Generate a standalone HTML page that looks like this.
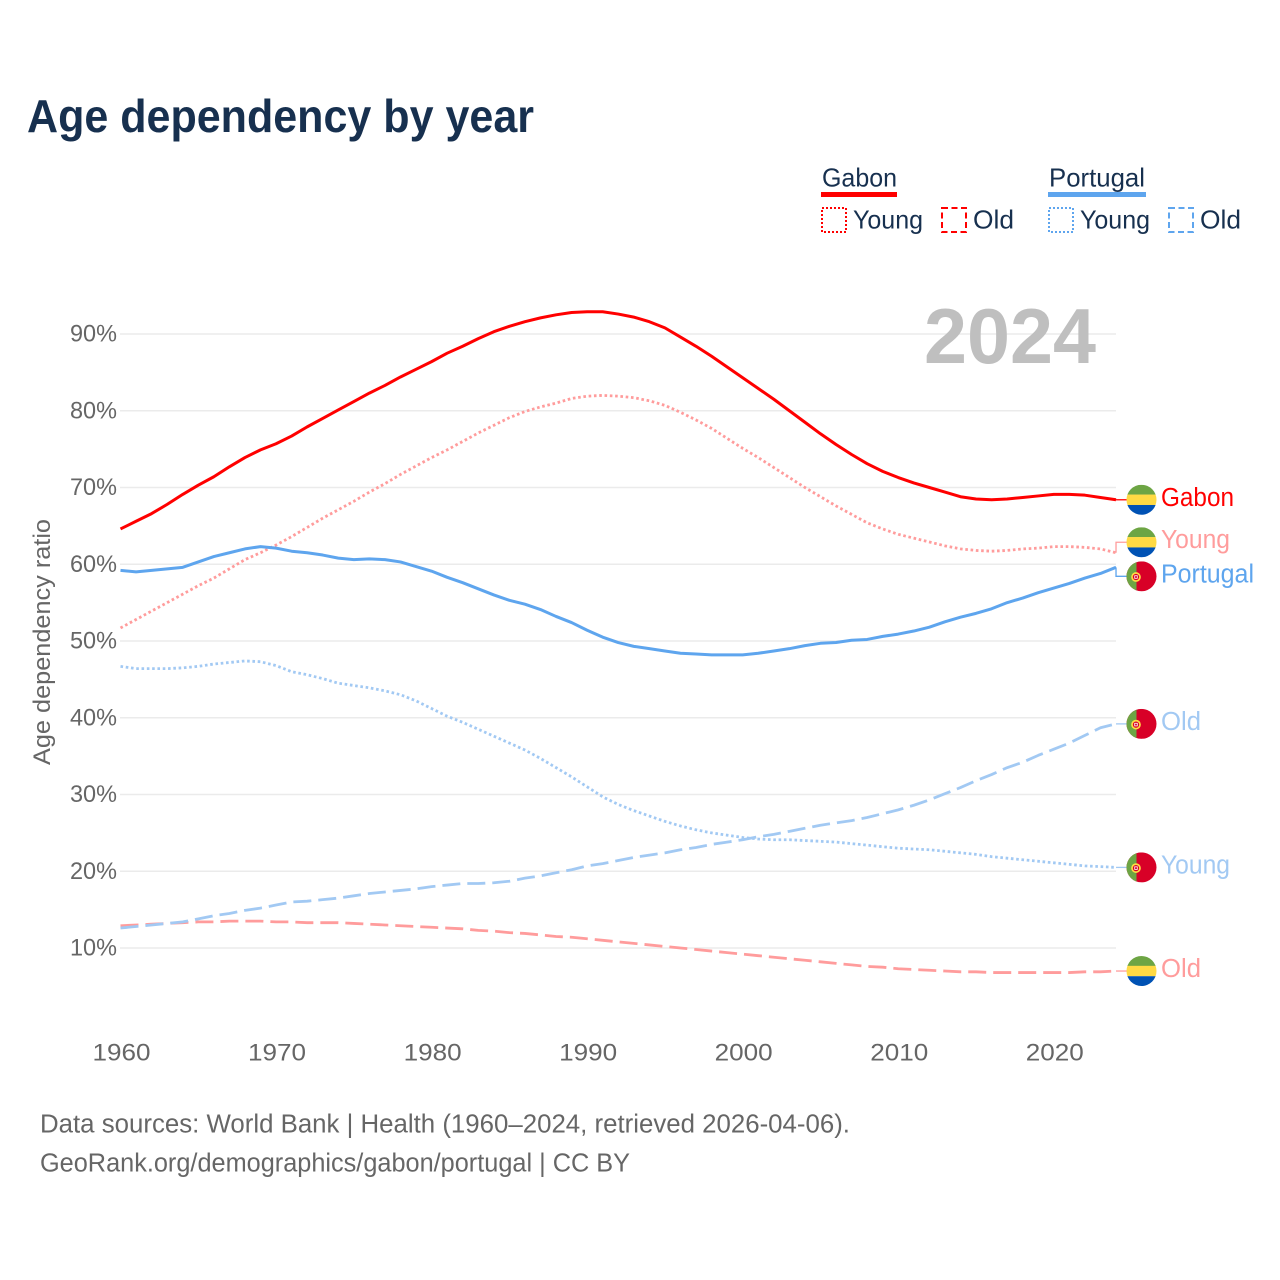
<!DOCTYPE html>
<html lang="en">
<head>
<meta charset="utf-8">
<title>Age dependency by year</title>
<style>
html,body{margin:0;padding:0;background:#fff;width:1280px;height:1280px;overflow:hidden}
svg{display:block;font-family:"Liberation Sans",sans-serif}
</style>
</head>
<body>
<svg id="chart" width="1280" height="1280" viewBox="0 0 1280 1280" xmlns="http://www.w3.org/2000/svg">
  <text x="27" y="132" font-size="46" font-weight="700" fill="#17304f" textLength="507" lengthAdjust="spacingAndGlyphs">Age dependency by year</text>

  <g>
    <text x="822" y="186.5" font-size="26" fill="#17304f" textLength="75" lengthAdjust="spacingAndGlyphs">Gabon</text>
    <rect x="821" y="192" width="76" height="5" fill="#ff0000"/>
    <rect x="822" y="208" width="24" height="24" fill="none" stroke="#ff0000" stroke-width="2" stroke-dasharray="2 2"/>
    <text x="853" y="228.5" font-size="26" fill="#17304f" textLength="70" lengthAdjust="spacingAndGlyphs">Young</text>
    <rect x="942" y="208" width="24" height="24" fill="none" stroke="#ff0000" stroke-width="2" stroke-dasharray="6 3.5"/>
    <text x="973" y="228.5" font-size="26" fill="#17304f" textLength="41" lengthAdjust="spacingAndGlyphs">Old</text>
    <text x="1049" y="186.5" font-size="26" fill="#17304f" textLength="96" lengthAdjust="spacingAndGlyphs">Portugal</text>
    <rect x="1048" y="192" width="98" height="5" fill="#5ea5ee"/>
    <rect x="1049" y="208" width="24" height="24" fill="none" stroke="#5ea5ee" stroke-width="2" stroke-dasharray="2 2"/>
    <text x="1080" y="228.5" font-size="26" fill="#17304f" textLength="70" lengthAdjust="spacingAndGlyphs">Young</text>
    <rect x="1169" y="208" width="24" height="24" fill="none" stroke="#5ea5ee" stroke-width="2" stroke-dasharray="6 3.5"/>
    <text x="1200" y="228.5" font-size="26" fill="#17304f" textLength="41" lengthAdjust="spacingAndGlyphs">Old</text>
  </g>

  <g id="grid"></g>
  <g id="yticks"></g>
  <g id="xticks"></g>

  <text transform="translate(50,765) rotate(-90)" font-size="24.5" fill="#666" textLength="246" lengthAdjust="spacingAndGlyphs">Age dependency ratio</text>
  <text x="924" y="363" font-size="78" font-weight="700" fill="#bfbfbf" textLength="172" lengthAdjust="spacingAndGlyphs">2024</text>

  <g id="series"></g>
  <g id="labels"></g>

  <text x="40" y="1132.5" font-size="25.5" fill="#666" textLength="810" lengthAdjust="spacingAndGlyphs">Data sources: World Bank | Health (1960–2024, retrieved 2026-04-06).</text>
  <text x="40" y="1171.5" font-size="25.5" fill="#666" textLength="590" lengthAdjust="spacingAndGlyphs">GeoRank.org/demographics/gabon/portugal | CC BY</text>
</svg>

<script>
const startYear = 1960;
const xTickYears = [1960, 1970, 1980, 1990, 2000, 2010, 2020];
const yTickValues = [10, 20, 30, 40, 50, 60, 70, 80, 90];

const gabonTotal = [
  64.6, 65.6, 66.6, 67.8, 69.1, 70.3, 71.4, 72.7, 73.9, 74.9,
  75.7, 76.7, 77.9, 79.0, 80.1, 81.2, 82.3, 83.3, 84.4, 85.4,
  86.4, 87.5, 88.4, 89.4, 90.3, 91.0, 91.6, 92.1, 92.5, 92.8,
  92.9, 92.9, 92.6, 92.2, 91.6, 90.8, 89.6, 88.4, 87.1, 85.7,
  84.3, 82.9, 81.5, 80.0, 78.5, 77.0, 75.6, 74.3, 73.1, 72.1,
  71.3, 70.6, 70.0, 69.4, 68.8, 68.5, 68.4, 68.5, 68.7, 68.9,
  69.1, 69.1, 69.0, 68.7, 68.4
];
const gabonYoung = [
  51.7, 52.8, 53.9, 55.0, 56.1, 57.2, 58.2, 59.4, 60.6, 61.5,
  62.5, 63.6, 64.8, 66.0, 67.1, 68.2, 69.4, 70.5, 71.7, 72.8,
  73.9, 74.9, 76.0, 77.1, 78.1, 79.1, 79.9, 80.5, 81.0, 81.6,
  81.9, 82.0, 81.9, 81.7, 81.3, 80.7, 79.8, 78.8, 77.7, 76.4,
  75.1, 73.9, 72.6, 71.3, 70.0, 68.8, 67.6, 66.5, 65.4, 64.6,
  63.9, 63.4, 62.9, 62.4, 62.0, 61.8, 61.7, 61.8, 62.0, 62.1,
  62.3, 62.3, 62.2, 62.0, 61.5
];
const gabonOld = [
  12.9, 13.0, 13.1, 13.2, 13.3, 13.4, 13.4, 13.5, 13.5, 13.5,
  13.4, 13.4, 13.3, 13.3, 13.3, 13.2, 13.1, 13.0, 12.9, 12.8,
  12.7, 12.6, 12.5, 12.3, 12.2, 12.0, 11.9, 11.7, 11.5, 11.4,
  11.2, 11.0, 10.8, 10.6, 10.4, 10.2, 10.0, 9.8, 9.6, 9.4,
  9.2, 9.0, 8.8, 8.6, 8.4, 8.2, 8.0, 7.8, 7.6, 7.5,
  7.3, 7.2, 7.1, 7.0, 6.9, 6.9, 6.8, 6.8, 6.8, 6.8,
  6.8, 6.8, 6.9, 6.9, 7.0
];
const portugalTotal = [
  59.2, 59.0, 59.2, 59.4, 59.6, 60.3, 61.0, 61.5, 62.0, 62.3,
  62.1, 61.7, 61.5, 61.2, 60.8, 60.6, 60.7, 60.6, 60.3, 59.7,
  59.1, 58.3, 57.6, 56.8, 56.0, 55.3, 54.8, 54.1, 53.2, 52.4,
  51.4, 50.5, 49.8, 49.3, 49.0, 48.7, 48.4, 48.3, 48.2, 48.2,
  48.2, 48.4, 48.7, 49.0, 49.4, 49.7, 49.8, 50.1, 50.2, 50.6,
  50.9, 51.3, 51.8, 52.5, 53.1, 53.6, 54.2, 55.0, 55.6, 56.3,
  56.9, 57.5, 58.2, 58.8, 59.6
];
const portugalYoung = [
  46.7, 46.4, 46.4, 46.4, 46.5, 46.7, 47.0, 47.2, 47.4, 47.3,
  46.8, 46.0, 45.6, 45.1, 44.5, 44.2, 43.9, 43.5, 43.0, 42.2,
  41.2, 40.2, 39.4, 38.5, 37.6, 36.7, 35.8, 34.7, 33.5, 32.3,
  31.0, 29.7, 28.7, 27.9, 27.2, 26.5, 25.9, 25.4, 25.0, 24.7,
  24.4, 24.2, 24.1, 24.1, 24.0, 23.9, 23.8, 23.6, 23.4, 23.2,
  23.0, 22.9, 22.8, 22.6, 22.4, 22.2, 21.9, 21.7, 21.5, 21.3,
  21.1, 20.9, 20.7, 20.6, 20.5
];
const portugalOld = [
  12.6, 12.8, 13.0, 13.2, 13.4, 13.8, 14.2, 14.5, 14.9, 15.2,
  15.6, 16.0, 16.1, 16.3, 16.5, 16.8, 17.1, 17.3, 17.5, 17.7,
  18.0, 18.2, 18.4, 18.4, 18.5, 18.7, 19.1, 19.4, 19.8, 20.2,
  20.7, 21.0, 21.4, 21.8, 22.1, 22.4, 22.8, 23.1, 23.5, 23.8,
  24.1, 24.5, 24.8, 25.2, 25.6, 26.0, 26.3, 26.6, 27.0, 27.5,
  28.0, 28.6, 29.3, 30.1, 30.9, 31.8, 32.6, 33.5, 34.2, 35.1,
  35.9, 36.7, 37.7, 38.7, 39.2
];

const NS = 'http://www.w3.org/2000/svg';
const xScale = year => 120.5 + (year - 1960) * 15.555;
const yScale = value => 948 - (value - 10) * 7.675;

function make(tag, attrs, parent, text) {
  const el = document.createElementNS(NS, tag);
  for (const k in attrs) el.setAttribute(k, attrs[k]);
  if (text !== undefined) el.textContent = text;
  parent.appendChild(el);
  return el;
}

const grid = document.getElementById('grid');
const yticks = document.getElementById('yticks');
const xticks = document.getElementById('xticks');
const seriesG = document.getElementById('series');
const labelsG = document.getElementById('labels');

yTickValues.forEach(v => {
  const line = make('line', {x1: 120, x2: 1116, y1: yScale(v), y2: yScale(v), stroke: '#ebebeb', 'stroke-width': 1.5}, grid);
  
  
  const t = make('text', {x: 117, y: yScale(v) + 7.5, 'font-size': 24, fill: '#666', 'text-anchor': 'end', textLength: 47, lengthAdjust: 'spacingAndGlyphs'}, yticks, v + '%');
  
  
});

xTickYears.forEach(y => {
  const t = make('text', {x: xScale(y) + 1, y: 1060.5, 'font-size': 24, fill: '#666', 'text-anchor': 'middle', textLength: 58, lengthAdjust: 'spacingAndGlyphs'}, xticks, String(y));
  
  
});

const RED = '#ff0000', LRED = '#ff9c9c', BLUE = '#5ea5ee', LBLUE = '#a2c9f3';
const DOT = '2.6 2.7', DASH = '18 7';

/* draw order and styling; labelDy is the dodge of the end label from its line end */
const seriesList = [
  {key: 'gabon-old', values: gabonOld, color: LRED, dash: DASH, label: 'Old', flag: 'ga', labelDy: 0, width: 2.8},
  {key: 'portugal-old', values: portugalOld, color: LBLUE, dash: DASH, label: 'Old', flag: 'pt', labelDy: 0, width: 2.8},
  {key: 'portugal-young', values: portugalYoung, color: LBLUE, dash: DOT, label: 'Young', flag: 'pt', labelDy: 0, width: 2.8},
  {key: 'gabon-young', values: gabonYoung, color: LRED, dash: DOT, label: 'Young', flag: 'ga', labelDy: -10.5, width: 2.8},
  {key: 'portugal-total', values: portugalTotal, color: BLUE, dash: null, label: 'Portugal', flag: 'pt', labelDy: 9, width: 3},
  {key: 'gabon-total', values: gabonTotal, color: RED, dash: null, label: 'Gabon', flag: 'ga', labelDy: 0, width: 3}
];
const labelWidths = {Old: 40, Young: 69, Portugal: 93, Gabon: 73};

function drawFlag(kind, cy, idx) {
  const cx = 1141.5, r = 15;
  const g = make('g', {}, labelsG);
  
  
  const clip = make('clipPath', {id: 'flag-clip-' + idx}, g);
  make('circle', {cx: cx, cy: cy, r: r}, clip);
  const body = make('g', {'clip-path': 'url(#flag-clip-' + idx + ')'}, g);
  if (kind === 'ga') {
    make('rect', {x: cx - r, y: cy - r, width: 30, height: 10, fill: '#6da544'}, body);
    make('rect', {x: cx - r, y: cy - 5.2, width: 30, height: 10.4, fill: '#ffda44'}, body);
    make('rect', {x: cx - r, y: cy + 5.2, width: 30, height: 10, fill: '#0052b4'}, body);
  } else {
    make('rect', {x: cx - r, y: cy - r, width: 30, height: 30, fill: '#d80027'}, body);
    make('rect', {x: cx - r, y: cy - r, width: 10, height: 30, fill: '#6da544'}, body);
    make('circle', {cx: cx - 5.5, cy: cy + 0.7, r: 4, fill: '#d80027', stroke: '#ffda44', 'stroke-width': 1.7}, body);
    make('rect', {x: cx - 6.8, y: cy - 0.6, width: 2.6, height: 2.6, fill: '#d80027', stroke: '#fff', 'stroke-width': 0.8}, body);
  }
}

seriesList.forEach((s, idx) => {
  const d = s.values.map((v, i) => (i ? 'L' : 'M') + xScale(startYear + i).toFixed(2) + ' ' + yScale(v).toFixed(2)).join(' ');
  const attrs = {d: d, fill: 'none', stroke: s.color, 'stroke-width': s.width, 'stroke-linejoin': 'round'};
  if (s.dash) attrs['stroke-dasharray'] = s.dash;
  const path = make('path', attrs, seriesG);
  
  

  const lastY = yScale(s.values[s.values.length - 1]);
  const endX = xScale(startYear + s.values.length - 1);
  const labelY = lastY + s.labelDy;

  const conn = make('path', {d: 'M' + endX + ' ' + lastY + ' V' + labelY + ' H1127', fill: 'none', stroke: s.color, 'stroke-width': 1.3}, labelsG);
  
  

  drawFlag(s.flag, labelY, idx);

  const t = make('text', {x: 1161, y: labelY + 6, 'font-size': 25.5, fill: s.color, textLength: labelWidths[s.label], lengthAdjust: 'spacingAndGlyphs'}, labelsG, s.label);
  
  
});
</script>
</body>
</html>
